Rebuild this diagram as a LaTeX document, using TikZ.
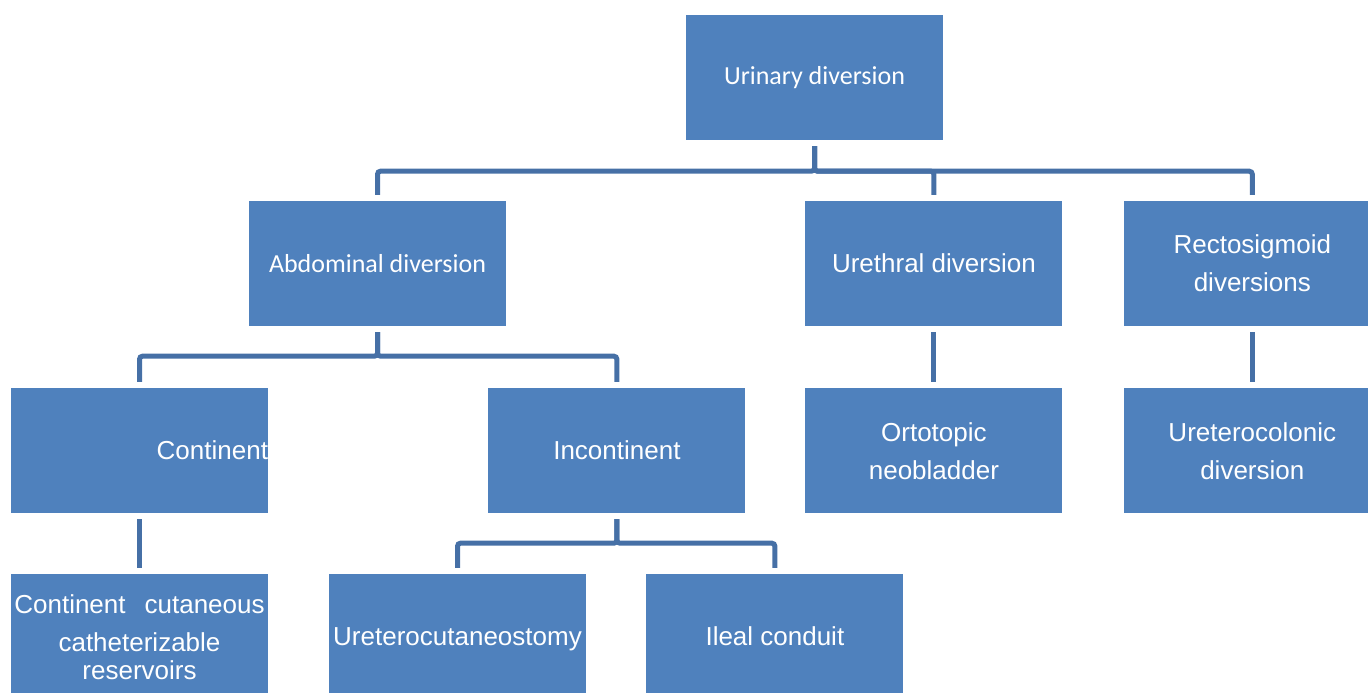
\documentclass[tikz,border=0pt]{standalone}
\usepackage{fontspec}
\setmainfont{Liberation Sans}
\newfontfamily\calfont{Carlito}
\usepackage{tikz}
\usetikzlibrary{positioning}

\definecolor{boxblue}{HTML}{4F81BD}
\definecolor{lineblue}{HTML}{4670A6}

\begin{document}
\begin{tikzpicture}[x=1pt, y=1pt,
    every node/.style={fill=boxblue, text=white, minimum width=257pt, minimum height=125pt,
      inner sep=0pt, align=center, font=\fontsize{26}{38}\selectfont},
    conn/.style={draw=lineblue, line width=5pt, rounded corners=3pt, shorten <=6pt, shorten >=6pt}]
    \useasboundingbox (0,0) rectangle (1368,-693);
    \node (urin) at (814.5,-77.5) {\calfont Urinary diversion};
    \node (abd)  at (377.5,-263.5) {\calfont Abdominal diversion};
    \node (ureth)[right=299pt of abd] {Urethral diversion};
    \node (recto)[right=61pt of ureth] {Rectosigmoid\\diversions};
    \node (cont) at (139.5,-450.5) [text width=257pt, align=right] {Continent};
    \node (incont)[right=220pt of cont] {Incontinent};
    \node (orto) [below=62pt of ureth] {Ortotopic\\neobladder};
    \node (ucol) [below=62pt of recto] {Ureterocolonic\\diversion};
    \node (ccr)  [below=61pt of cont] {Continent\hspace{19pt}cutaneous\\catheterizable\\[-10pt]reservoirs};
    \node (ucut) at (457.5,-636.5) [text depth=0pt] {Ureterocutaneostomy};
    \node (ileal)[right=60pt of ucut] {Ileal conduit};
    \draw[conn] (urin.south) -- ++(0,-31) -| (abd.north);
    \draw[conn] (urin.south) -- ++(0,-31) -| (ureth.north);
    \draw[conn] (urin.south) -- ++(0,-31) -| (recto.north);
    \draw[conn] (abd.south) -- ++(0,-30) -| (cont.north);
    \draw[conn] (abd.south) -- ++(0,-30) -| (incont.north);
    \draw[conn] (incont.south) -- ++(0,-30) -| (ucut.north);
    \draw[conn] (incont.south) -- ++(0,-30) -| (ileal.north);
    \draw[conn] (cont) -- (ccr);
    \draw[conn] (ureth) -- (orto);
    \draw[conn] (recto) -- (ucol);
  \end{tikzpicture}
\end{document}
